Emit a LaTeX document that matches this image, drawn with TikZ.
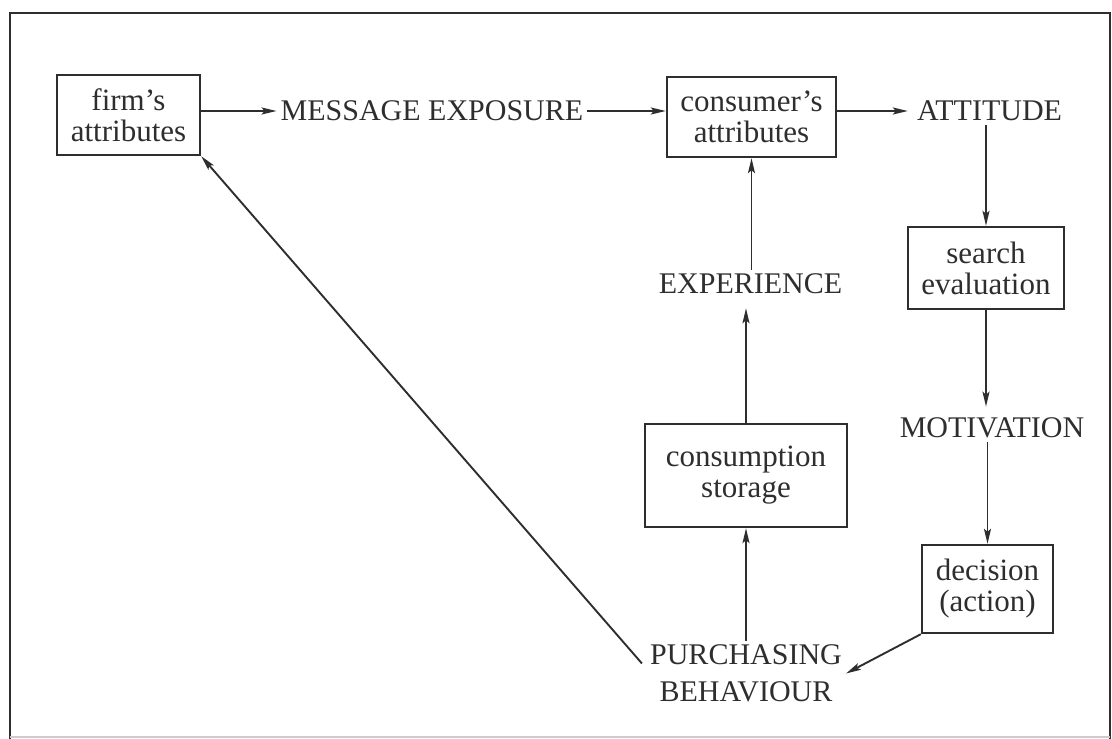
\documentclass[tikz,border=0pt]{standalone}
\usepackage{fontspec}
\setmainfont{Liberation Serif}
\usetikzlibrary{arrows.meta,calc}
\definecolor{ink}{HTML}{2E2E2E}
\tikzset{
  boxnode/.style={draw=ink, line width=2.4pt, inner sep=0pt, align=center,
    font=\fontsize{31}{31}\selectfont, text=ink},
  lbl/.style={inner sep=4pt, align=center, font=\fontsize{30}{37}\selectfont, text=ink},
  arr/.style={draw=ink, line width=1.9pt, -{Stealth[length=15pt,width=7pt,inset=3pt]}},
  frame/.style={draw=ink, line width=2.2pt}
}
\begin{document}
\begin{tikzpicture}[x=1pt,y=-1pt]
\useasboundingbox (0,0) rectangle (1112,739);
% frame
\draw[frame] (10,739) -- (10,13) -- (1110,13) -- (1110,739);
\draw[draw=gray!40, line width=1.2pt] (10,737) -- (1110,737);

% boxes
\node[boxnode, minimum width=143pt, minimum height=80pt] (firm) at (128.5,115) {firm's\\attributes};
\node[boxnode, minimum width=169pt, minimum height=80pt] (cons) at (751.5,117) {consumer's\\attributes};
\node[boxnode, minimum width=156pt, minimum height=82pt] (search) at (986,268) {search\\evaluation};
\node[boxnode, minimum width=131pt, minimum height=88pt] (dec) at (987.5,589) {decision\\(action)};
\node[boxnode, minimum width=202pt, minimum height=103pt] (consum) at (746,475.5) {consumption\\storage};

% labels
\node[lbl] (msg) at (432,111) {MESSAGE EXPOSURE};
\node[lbl] (att) at (989.5,111) {ATTITUDE};
\node[lbl] (mot) at (992,428) {MOTIVATION};
\node[lbl] (exp) at (750.5,284) {EXPERIENCE};
\node[lbl] (purch) at (746,673.5) {PURCHASING\\BEHAVIOUR};

% connectors
\draw[arr] (firm.east |- msg.west) -- (msg.west);
\draw[arr] (msg.east) -- (cons.west |- msg.east);
\draw[arr] (cons.east |- att.west) -- ([xshift=-5pt]att.west);
\draw[arr] (att.south -| search.north) -- (search.north);
\draw[arr] (search.south) -- ([yshift=7pt]mot.north -| search.south);
\draw[arr] (mot.south -| dec.north) -- (dec.north);
\draw[arr] (dec.south west) -- (purch.east);
\draw[arr] (purch.north -| consum.south) -- (consum.south);
\draw[arr] (consum.north) -- ([yshift=-10pt]exp.south -| consum.north);
\draw[arr] (exp.north -| cons.south) -- (cons.south);
\draw[arr] ($(purch.west)+(-4,-10)$) -- (firm.south east);
\end{tikzpicture}
\end{document}
